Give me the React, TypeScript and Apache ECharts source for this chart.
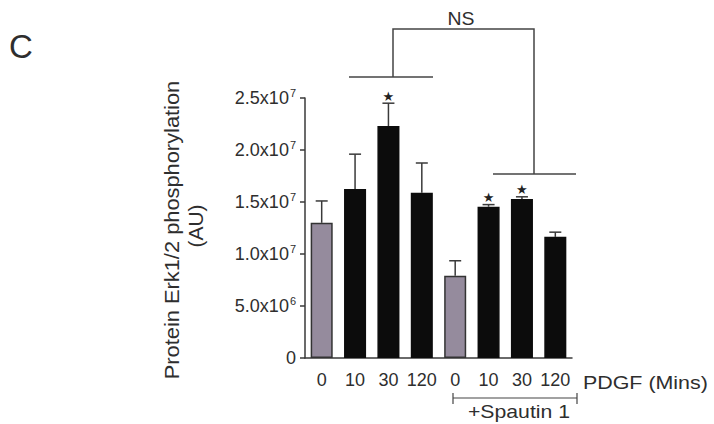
import React, { useEffect, useRef } from "react";
import * as echarts from "echarts";

const categories = ["0", "10", "30", "120", "0", "10", "30", "120"];
const barValues = [1.3e7, 1.625e7, 2.23e7, 1.59e7, 7.9e6, 1.455e7, 1.53e7, 1.165e7];
const errorTops = [1.51e7, 1.96e7, 2.45e7, 1.875e7, 9.35e6, 1.475e7, 1.55e7, 1.21e7];
const isControl = [true, false, false, false, true, false, false, false];
const significant = [false, false, true, false, false, true, true, false];
const yTicks = [0, 5e6, 1e7, 1.5e7, 2e7, 2.5e7];

const TXT = "#2e2e2e";
const LINE = "#3a3a3a";
const FONT = "Liberation Sans, Arial, sans-serif";

function tickLabel(v: number): string {
  if (v === 0) return "0";
  const e = Math.floor(Math.log10(v));
  const m = (v / Math.pow(10, e)).toFixed(1);
  return `{b|${m}x10}{s|${e}}`;
}

export default function App() {
  const ref = useRef<HTMLDivElement>(null);
  useEffect(() => {
    if (!ref.current) return;
    const chart = echarts.init(ref.current, undefined, { renderer: "svg" });
    chart.setOption({
      animation: false,
      backgroundColor: "#ffffff",
      grid: { left: 305, right: 142, top: 98, bottom: 66 },
      xAxis: {
        type: "category",
        data: categories,
        axisLine: { lineStyle: { color: LINE, width: 1.5 } },
        axisTick: { alignWithLabel: true, length: 6, lineStyle: { color: LINE, width: 1.5 } },
        axisLabel: { interval: 0, color: TXT, fontSize: 18, fontFamily: FONT, margin: 13 },
      },
      yAxis: {
        type: "value",
        min: 0,
        max: 2.5e7,
        interval: 5e6,
        splitLine: { show: false },
        axisLine: { show: true, lineStyle: { color: LINE, width: 1.5 } },
        axisTick: { show: true, length: 5, lineStyle: { color: LINE, width: 1.5 } },
        axisLabel: {
          margin: 9,
          formatter: (v: number) => (yTicks.includes(v) ? tickLabel(v) : ""),
          color: TXT,
          fontFamily: FONT,
          fontSize: 18,
          rich: {
            b: { fontSize: 18, color: TXT, fontFamily: FONT, lineHeight: 22 },
            s: { fontSize: 11, color: TXT, fontFamily: FONT, verticalAlign: "top", lineHeight: 22, padding: [0, 0, 0, 1] },
          },
        },
      },
      series: [
        {
          type: "bar",
          barWidth: "66%",
          data: barValues.map((v, i) => ({
            value: v,
            itemStyle: {
              color: isControl[i] ? "#958b9d" : "#0c0c0c",
              borderColor: isControl[i] ? "#333" : "#0c0c0c",
              borderWidth: 1.5,
            },
          })),
        },
        {
          type: "custom",
          z: 1,
          data: barValues.map((v, i) => [i, v, errorTops[i]]),
          encode: { x: 0, y: [1, 2] },
          renderItem: (_params: any, api: any) => {
            const x = api.value(0);
            const p0 = api.coord([x, api.value(1)]);
            const p1 = api.coord([x, api.value(2)]);
            const st = { stroke: LINE, lineWidth: 1.5 };
            return {
              type: "group",
              children: [
                { type: "line", shape: { x1: p0[0], y1: p0[1], x2: p1[0], y2: p1[1] }, style: st },
                { type: "line", shape: { x1: p1[0] - 6, y1: p1[1], x2: p1[0] + 6, y2: p1[1] }, style: st },
              ],
            };
          },
        },
        {
          type: "custom",
          data: errorTops.map((v, i) => [i, v]).filter((_, i) => significant[i]),
          encode: { x: 0, y: 1 },
          renderItem: (_params: any, api: any) => {
            const p = api.coord([api.value(0), api.value(1)]);
            return {
              type: "text",
              x: p[0],
              y: p[1] - 7,
              style: {
                text: "★",
                fill: "#222",
                fontSize: 13,
                fontFamily: "DejaVu Sans",
                align: "center",
                verticalAlign: "middle",
              },
            };
          },
        },
      ],
      graphic: [
        {
          type: "text",
          x: 9,
          y: 46,
          style: { text: "C", fill: TXT, fontSize: 33, fontFamily: FONT, verticalAlign: "middle" },
        },
        {
          type: "text",
          x: 172,
          y: 230,
          rotation: Math.PI / 2,
          scaleX: 1.04,
          style: {
            text: "Protein Erk1/2 phosphorylation",
            fill: TXT,
            fontSize: 21,
            fontFamily: FONT,
            align: "center",
            verticalAlign: "middle",
          },
        },
        {
          type: "text",
          x: 196,
          y: 226,
          rotation: Math.PI / 2,
          scaleX: 1.05,
          style: { text: "(AU)", fill: TXT, fontSize: 20, fontFamily: FONT, align: "center", verticalAlign: "middle" },
        },
        {
          type: "polyline",
          shape: { points: [[349, 77], [433, 77]] },
          style: { stroke: "#444", lineWidth: 1.5, fill: "none" },
        },
        {
          type: "polyline",
          shape: { points: [[393, 77], [393, 29], [534, 29], [534, 174]] },
          style: { stroke: "#444", lineWidth: 1.5, fill: "none" },
        },
        {
          type: "polyline",
          shape: { points: [[493, 174], [576, 174]] },
          style: { stroke: "#444", lineWidth: 1.5, fill: "none" },
        },
        {
          type: "text",
          x: 461,
          y: 19,
          scaleX: 1.08,
          style: { text: "NS", fill: TXT, fontSize: 18, fontFamily: FONT, align: "center", verticalAlign: "middle" },
        },
        {
          type: "text",
          x: 583,
          y: 383,
          scaleX: 1.19,
          style: { text: "PDGF (Mins)", fill: TXT, fontSize: 18, fontFamily: FONT, verticalAlign: "middle" },
        },
        {
          type: "polyline",
          shape: { points: [[453, 398], [577, 398]] },
          style: { stroke: "#444", lineWidth: 1.2, fill: "none" },
        },
        { type: "line", shape: { x1: 453, y1: 393, x2: 453, y2: 404 }, style: { stroke: "#444", lineWidth: 1.2 } },
        { type: "line", shape: { x1: 577, y1: 393, x2: 577, y2: 404 }, style: { stroke: "#444", lineWidth: 1.2 } },
        {
          type: "text",
          x: 519,
          y: 412,
          scaleX: 1.18,
          style: { text: "+Spautin 1", fill: TXT, fontSize: 18, fontFamily: FONT, align: "center", verticalAlign: "middle" },
        },
      ],
    });
    return () => chart.dispose();
  }, []);
  return <div ref={ref} style={{ position: "fixed", left: 0, top: 0, width: 714, height: 424 }} />;
}
